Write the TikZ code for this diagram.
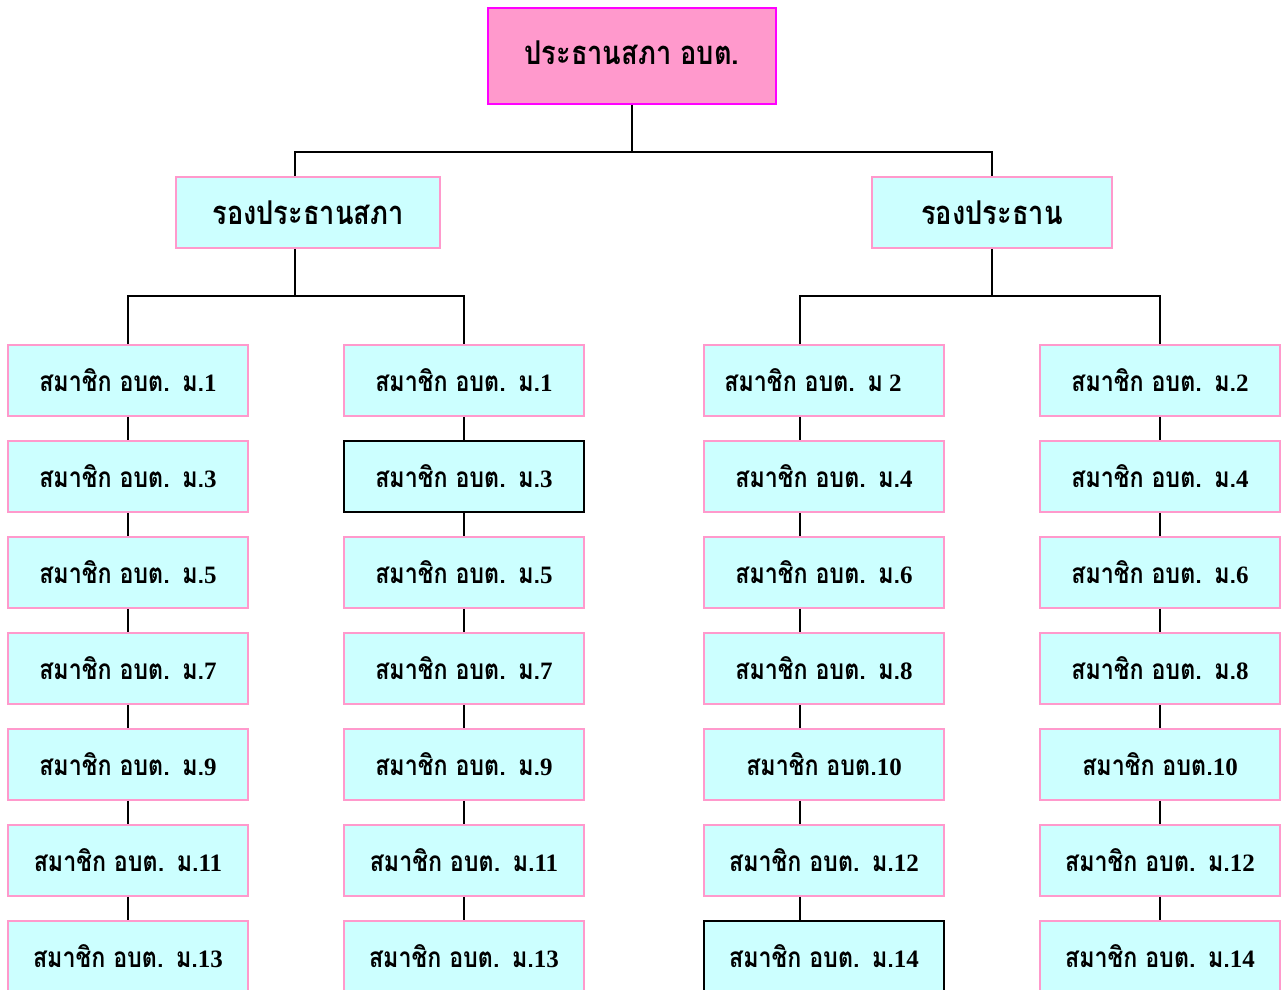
\documentclass[tikz,border=0pt]{standalone}
\usepackage{fontspec}
\setmainfont{Liberation Serif}
\newfontfamily\thaifont[Script=Thai, Scale=1.12, FakeStretch=0.83]{Loma}
\definecolor{boxpink}{HTML}{FF99CC}
\definecolor{boxcyan}{HTML}{CCFFFF}
\definecolor{topborder}{HTML}{FF00FF}
\newcommand\thtxt[1]{{\thaifont #1}}
\newcommand\mem[1]{\thtxt{สมาชิก อบต.\hspace{0.45em}ม.}#1}
\begin{document}
\begin{tikzpicture}[x=1pt,y=-1pt,
  every node/.style={font=\fontsize{25}{29}\selectfont\bfseries},
  headfont/.style={font=\fontsize{29.3}{33}\selectfont\bfseries},
  memberbox/.style={draw=boxpink, fill=boxcyan, line width=1.6pt, minimum width=240pt, minimum height=71pt, inner sep=0pt},
  darkbox/.style={memberbox, draw=black},
  topbox/.style={draw=topborder, fill=boxpink, line width=1.6pt, minimum width=288pt, minimum height=96pt, inner sep=0pt, headfont},
  link/.style={draw=black, line width=1.3pt}]
\useasboundingbox (0,0) rectangle (1286,989);
\clip (0,0) rectangle (1286,989);
\fill[white] (0,0) rectangle (1286,989);

% top
\node[topbox] (top) at (632,56) {\raisebox{6pt}{\thtxt{ประธานสภา อบต.}}};
\node[memberbox, headfont, minimum width=264pt] (vp1) at (308,212.5) {\thtxt{รองประธานสภา}};
\node[memberbox, headfont] (vp2) at (992,212.5) {\thtxt{รองประธาน}};

% branch points
\coordinate (b1) at (295,152);
\coordinate (l1) at (128,296);
\coordinate (r1) at (800,296);

% members
\foreach \r/\t in {1/1,2/3,3/5,4/7,5/9,6/11,7/13}{
  \node[memberbox] (c1r\r) at (128,{380.5+96*(\r-1)}) {\mem{\t}};
}
\foreach \r/\t in {1/1,3/5,4/7,5/9,6/11,7/13}{
  \node[memberbox] (c2r\r) at (464,{380.5+96*(\r-1)}) {\mem{\t}};
}
\node[darkbox] (c2r2) at (464,476.5) {\mem{3}};

\node[memberbox] (c3r1) at (824,380.5) {\hspace{-22pt}\thtxt{สมาชิก อบต.\hspace{0.45em}ม} 2};
\foreach \r/\t in {2/4,3/6,4/8,6/12}{
  \node[memberbox] (c3r\r) at (824,{380.5+96*(\r-1)}) {\mem{\t}};
}
\node[memberbox] (c3r5) at (824,764.5) {\thtxt{สมาชิก อบต.}10};
\node[darkbox] (c3r7) at (824,956.5) {\mem{14}};

\foreach \r/\t in {1/2,2/4,3/6,4/8,6/12,7/14}{
  \node[memberbox] (c4r\r) at (1160,{380.5+96*(\r-1)}) {\mem{\t}};
}
\node[memberbox] (c4r5) at (1160,764.5) {\thtxt{สมาชิก อบต.}10};

% connectors
\draw[link] (top.south) -- (top.south |- b1);
\draw[link] (vp1.north -| b1) |- (vp2.north |- b1) -- (vp2.north);
\draw[link] (vp1.south -| b1) -- (b1 |- l1);
\draw[link] (c1r1.north) -- (c1r1.north |- l1) -| (c2r1.north);
\draw[link] (vp2.south) -- (vp2.south |- r1);
\draw[link] (c3r1.north -| r1) -- (r1) -| (c4r1.north);

\foreach \a/\b in {1/2,2/3,3/4,4/5,5/6,6/7}{
  \draw[link] (c1r\a.south) -- (c1r\b.north);
  \draw[link] (c2r\a.south) -- (c2r\b.north);
  \draw[link] (c3r\a.south -| r1) -- (c3r\b.north -| r1);
  \draw[link] (c4r\a.south) -- (c4r\b.north);
}
\end{tikzpicture}
\end{document}
